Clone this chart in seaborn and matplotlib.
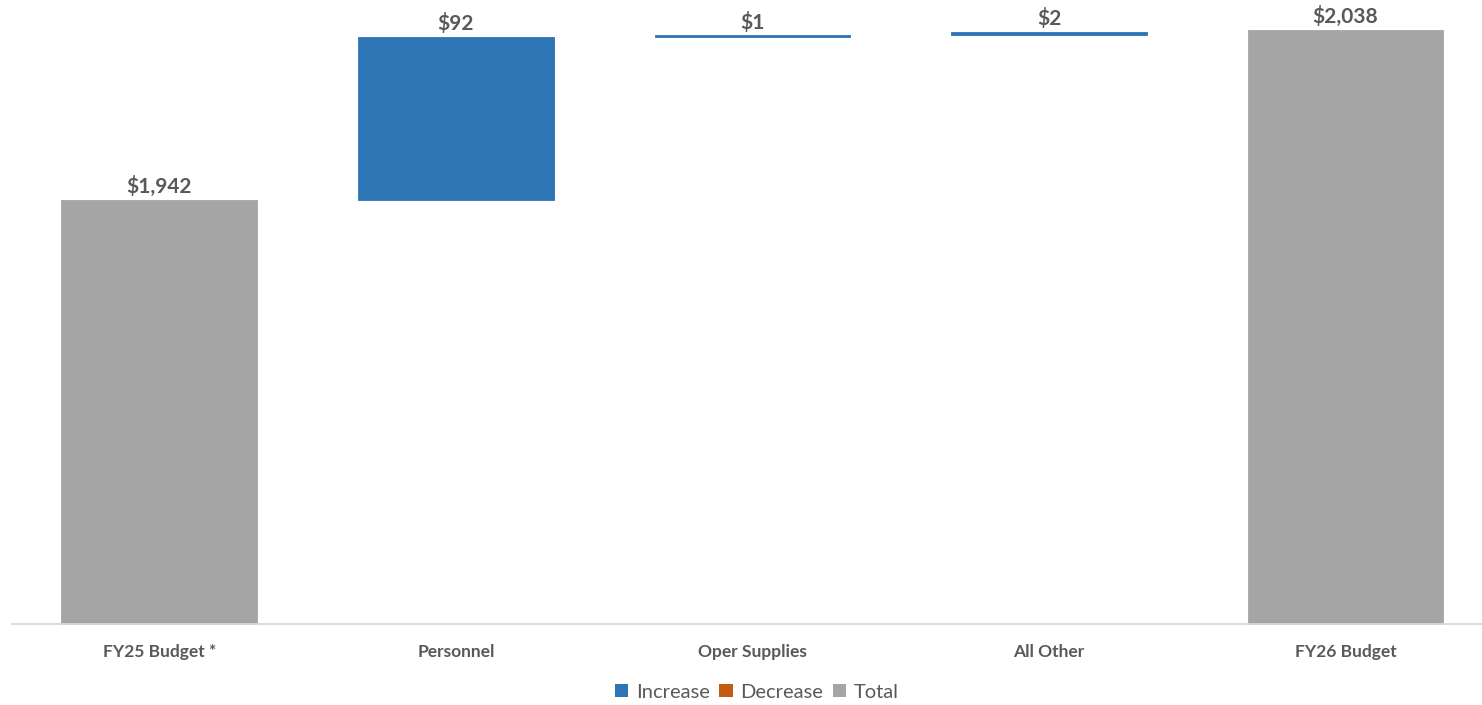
import matplotlib
matplotlib.use("Agg")
import matplotlib.pyplot as plt
from matplotlib.patches import Patch
import seaborn as sns
import pandas as pd

# Budget bridge, FY25 -> FY26 (in $)
categories = ["FY25 Budget *", "Personnel", "Oper Supplies", "All Other", "FY26 Budget"]
amounts = [1942, 92, 1, 2, 2038]
kinds = ["Total", "Increase", "Increase", "Increase", "Total"]
labels = ["$1,942", "$92", "$1", "$2", "$2,038"]

palette = {"Increase": "#2E75B6", "Decrease": "#C55A11", "Total": "#A5A5A5"}
legend_order = ["Increase", "Decrease", "Total"]
text_color = "#595959"
y_floor = 1701

sns.set_theme(style="white")
plt.rcParams["font.family"] = ["Lato", "DejaVu Sans"]

df = pd.DataFrame({"category": categories, "amount": amounts, "kind": kinds, "label": labels})

# running base for each step of the waterfall
bases, tops = [], []
running = 0
for amt, kind in zip(amounts, kinds):
    if kind == "Total":
        base, top = y_floor - 2, amt
        running = amt
    else:
        base = running
        top = running + amt
        running = top
    bases.append(base)
    tops.append(top)
df["base"] = bases
df["height"] = [t - b for t, b in zip(tops, bases)]
df["top"] = tops

fig = plt.figure(figsize=(14.82, 7.05), dpi=100)
ax = fig.add_axes([11 / 1482, 80 / 705, 1471 / 1482, 625 / 705])

for i, row in df.iterrows():
    sns.barplot(data=df.iloc[[i]], x="category", y="height", order=categories,
                color=palette[row["kind"]], saturation=1, width=0.66,
                bottom=row["base"], errorbar=None, ax=ax, zorder=2,
                edgecolor=palette[row["kind"]], linewidth=0.6)
    ax.annotate(row["label"], (i, row["top"]), xytext=(0, 2), textcoords="offset points",
                ha="center", va="bottom", fontsize=15, fontweight="bold", color=text_color)

ax.set_xlim(-0.5, 4.46)
ax.set_ylim(y_floor, 2055)
ax.axhline(y_floor + 0.6, color="#D9D9D9", lw=1.3, zorder=3)
for s in ax.spines.values():
    s.set_visible(False)
ax.set_yticks([])
ax.set_xlabel("")
ax.set_ylabel("")
ax.tick_params(axis="x", length=0, pad=14)
for t in ax.get_xticklabels():
    t.set_fontweight("bold")
    t.set_fontsize(12.5)
    t.set_color(text_color)

handles = [Patch(facecolor=palette[k], edgecolor="none", label=k) for k in legend_order]
fig.legend(handles=handles, loc="center", bbox_to_anchor=(757 / 1482, 13 / 705), ncol=3,
           frameon=False, fontsize=14.5, labelcolor=text_color,
           handlelength=0.65, handleheight=0.65, handletextpad=0.4, columnspacing=0.45)

fig.savefig("out.png", dpi=100)
